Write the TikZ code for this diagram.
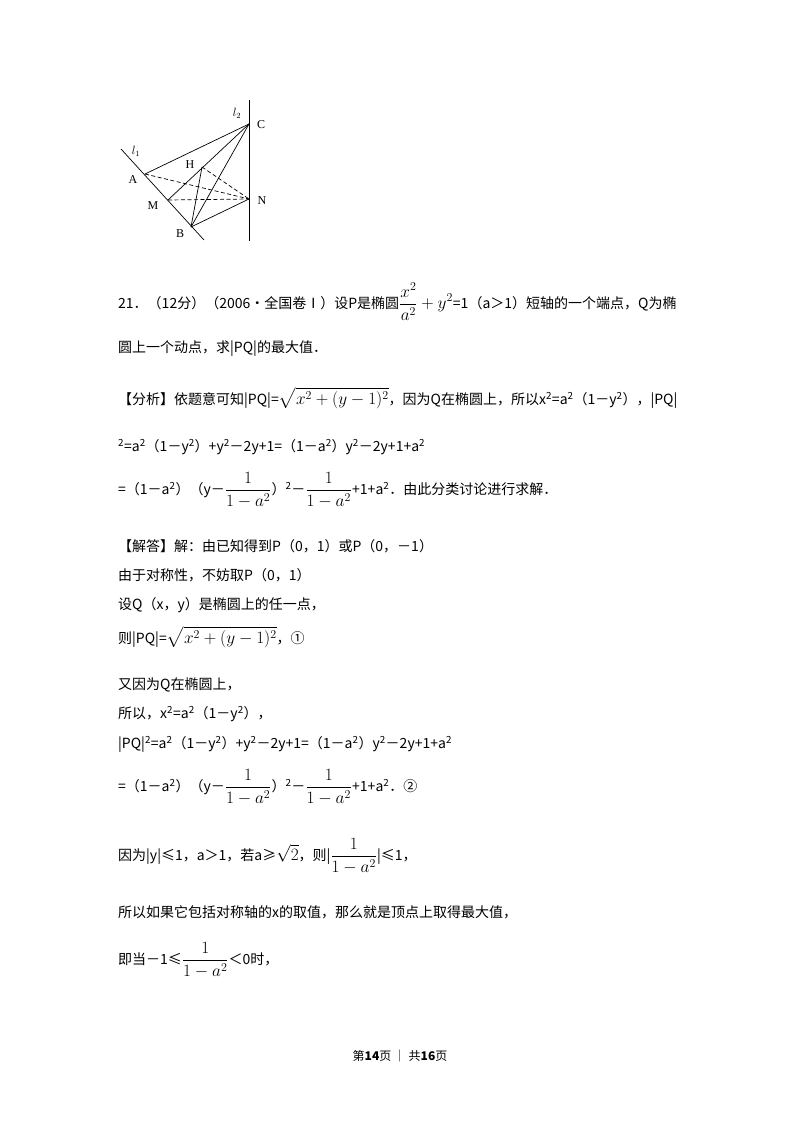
\documentclass[tikz,border=0pt]{standalone}
\usepackage{amsmath}
\usepackage{fontspec}
\setmainfont{Liberation Serif}
\newfontfamily\cjk{Noto Sans CJK SC}
\newcommand\tsq{\textsuperscript{2}}
\newcommand\mth[1]{{\fontsize{17}{19}\selectfont$\displaystyle #1$}}
\begin{document}
\begin{tikzpicture}[x=1pt,y=-1pt,
  txt/.style={anchor=west,inner sep=0pt,font=\cjk\fontsize{14}{16}\selectfont},
  lbl/.style={inner sep=0pt,font=\fontsize{12}{13}\selectfont},
  fig/.style={line width=0.7pt},
  dsh/.style={line width=0.7pt,dashed,dash pattern=on 4pt off 2.5pt}]
\useasboundingbox[fill=white] (0,0) rectangle (800,1132);
% figure
\coordinate (L1a) at (121,149); \coordinate (L1b) at (204,240);
\coordinate (L2a) at (249,100); \coordinate (L2b) at (249,241);
\coordinate (A) at (145,174); \coordinate (M) at (168,200); \coordinate (B) at (191,227);
\coordinate (C) at (249,124); \coordinate (N) at (249,199); \coordinate (H) at (202,167);
\draw[fig] (L1a) -- (L1b);
\draw[fig,line width=1pt] (L2a) -- (L2b);
\draw[fig] (A) -- (C);
\draw[fig] (M) -- (C);
\draw[fig] (B) -- (C);
\draw[fig] (B) -- (N);
\draw[fig] (B) -- (H);
\draw[dsh] (H) -- (N);
\draw[dsh] (A) -- (N);
\draw[dsh] (M) -- (N);
\node[lbl] (tl1) at (136,151) {$l_1$};
\node[lbl] (tl2) at (237,113) {$l_2$};
\node[lbl] (tC) at (261,125) {C};
\node[lbl] (tH) at (190,165) {H};
\node[lbl] (tA) at (133,180) {A};
\node[lbl] (tM) at (153,206) {M};
\node[lbl] (tN) at (262,201) {N};
\node[lbl] (tB) at (180,234) {B};
% text
\node[txt] (t1) at (118,302) {21．（12分）（2006•全国卷Ⅰ）设P是椭圆\mth{\frac{x^2}{a^2}+y^2}=1（a＞1）短轴的一个端点，Q为椭};
\node[txt] (t2) at (118,349) {圆上一个动点，求|PQ|的最大值．};
\node[txt] (t3) at (118,398) {【分析】依题意可知|PQ|=\mth{\sqrt{x^2+(y-1)^2}}，因为Q在椭圆上，所以x\tsq=a\tsq（1－y\tsq），|PQ|};
\node[txt] (t4) at (118,447) {\tsq=a\tsq（1－y\tsq）+y\tsq－2y+1=（1－a\tsq）y\tsq－2y+1+a\tsq};
\node[txt] (t5) at (118,490) {=（1－a\tsq）（y－\mth{\frac{1}{1-a^2}}）\tsq－\mth{\frac{1}{1-a^2}}+1+a\tsq．由此分类讨论进行求解．};
\node[txt] (t6) at (118,546) {【解答】解：由已知得到P（0，1）或P（0，－1）};
\node[txt] (t7) at (118,575) {由于对称性，不妨取P（0，1）};
\node[txt] (t8) at (118,605) {设Q（x，y）是椭圆上的任一点，};
\node[txt] (t9) at (118,637) {则|PQ|=\mth{\sqrt{x^2+(y-1)^2}}，①};
\node[txt] (t10) at (118,685) {又因为Q在椭圆上，};
\node[txt] (t11) at (118,714) {所以，x\tsq=a\tsq（1－y\tsq），};
\node[txt] (t12) at (118,744) {|PQ|\tsq=a\tsq（1－y\tsq）+y\tsq－2y+1=（1－a\tsq）y\tsq－2y+1+a\tsq};
\node[txt] (t13) at (118,787) {=（1－a\tsq）（y－\mth{\frac{1}{1-a^2}}）\tsq－\mth{\frac{1}{1-a^2}}+1+a\tsq．②};
\node[txt] (t14) at (118,856) {因为|y|≤1，a＞1，若a≥\mth{\sqrt{2}}，则|\mth{\frac{1}{1-a^2}}|≤1，};
\node[txt] (t15) at (118,912) {所以如果它包括对称轴的x的取值，那么就是顶点上取得最大值，};
\node[txt] (t16) at (118,960) {即当－1≤\mth{\frac{1}{1-a^2}}＜0时，};
\node[txt,anchor=center,font=\cjk\fontsize{12}{13}\selectfont] (ft) at (400,1056) {第\textbf{14}页 ｜ 共\textbf{16}页};
\end{tikzpicture}
\end{document}
